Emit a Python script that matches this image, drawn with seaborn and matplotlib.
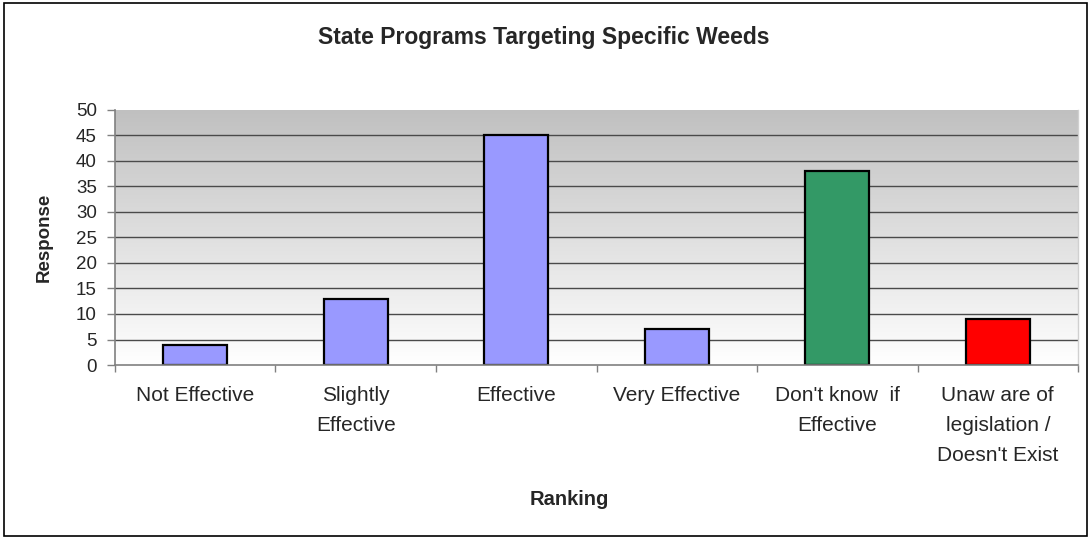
import matplotlib
matplotlib.use("Agg")
import matplotlib.pyplot as plt
import seaborn as sns
import numpy as np
import pandas as pd
from matplotlib.patches import Rectangle

categories = ["Not Effective", "Slightly\nEffective", "Effective", "Very Effective",
              "Don't know  if\nEffective", "Unaw are of\nlegislation /\nDoesn't Exist"]
values = [4, 13, 45, 7, 38, 9]
colors = ["#9999FF", "#9999FF", "#9999FF", "#9999FF", "#339966", "#FF0000"]
y_ticks = [0, 5, 10, 15, 20, 25, 30, 35, 40, 45, 50]

sns.set_theme(style="white")
plt.rcParams['font.family'] = ['Liberation Sans', 'DejaVu Sans']

df = pd.DataFrame({"Ranking": categories, "Response": values})

fig = plt.figure(figsize=(10.9, 5.39), dpi=100)
ax = fig.add_axes([0.1055, 0.3228, 0.8835, 0.4732])

# gradient background
grad = np.linspace(0, 1, 256).reshape(-1, 1)
ax.imshow(grad, cmap=matplotlib.colors.LinearSegmentedColormap.from_list("g", ["#ffffff", "#c0c0c0"]),
          extent=[0, 1, 0, 1], transform=ax.transAxes, aspect="auto", origin="lower", zorder=0)

for y in y_ticks[1:-1]:
    ax.axhline(y, color="#4a4a4a", lw=1.0, zorder=1)

sns.barplot(data=df, x="Ranking", y="Response", hue="Ranking", palette=colors,
            legend=False, width=0.4, edgecolor="black", linewidth=1.6, ax=ax, zorder=2, saturation=1)

ax.set_xlim(-0.5, len(categories) - 0.5)
ax.set_ylim(0, 50)
ax.set_yticks(y_ticks)
ax.tick_params(axis="y", labelsize=13.5, length=6, width=1, color="#808080", direction="out", left=True, pad=7)
ax.set_xticks(np.arange(len(categories) + 1) - 0.5, minor=True)
ax.set_xticks(np.arange(len(categories)))
ax.set_xticklabels(categories, fontsize=15, linespacing=1.75)
ax.tick_params(axis="x", which="major", length=0, pad=15)
ax.tick_params(axis="x", which="minor", length=5, width=1, color="#808080", direction="out", bottom=True)

ax.spines["top"].set_visible(False)
ax.spines["right"].set_color("#d0d0d0")
ax.spines["right"].set_linewidth(1.0)
for s in ["left", "bottom"]:
    ax.spines[s].set_color("#808080")
    ax.spines[s].set_linewidth(1.2)

ax.set_xlabel("")
ax.set_ylabel("")
fig.text(0.522, 0.074, "Ranking", ha="center", va="center", fontsize=14.5, fontweight="bold")
fig.text(0.041, 0.56, "Response", ha="center", va="center", rotation=90, fontsize=13.5, fontweight="bold")
fig.text(0.499, 0.93, "State Programs Targeting Specific Weeds", ha="center", va="center",
         fontsize=16.5, fontweight="bold")

fig.patches.append(Rectangle((0.004, 0.005), 0.993, 0.99, transform=fig.transFigure,
                             fill=False, edgecolor="black", lw=1.2))

fig.savefig("out.png", dpi=100)
